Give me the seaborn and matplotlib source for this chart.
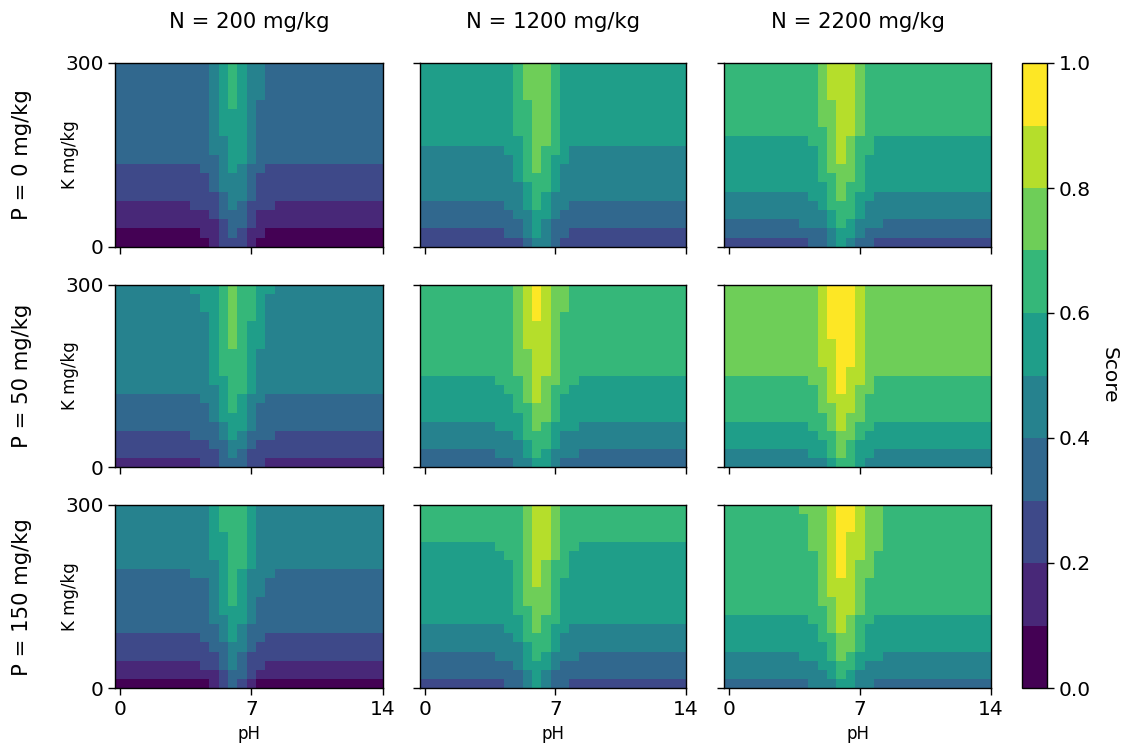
import numpy as np
import pandas as pd
import matplotlib
matplotlib.use("Agg")
import matplotlib.pyplot as plt
import seaborn as sns

sns.set_style("ticks")
plt.rcParams["font.family"] = ["DejaVu Sans"]
plt.rcParams["axes.edgecolor"] = "black"
plt.rcParams["xtick.color"] = "black"
plt.rcParams["ytick.color"] = "black"
plt.rcParams["text.color"] = "black"
plt.rcParams["axes.labelcolor"] = "black"

# ---------------- data ----------------
n_titles = ["N = 200 mg/kg", "N = 1200 mg/kg", "N = 2200 mg/kg"]
p_titles = ["P = 0 mg/kg", "P = 50 mg/kg", "P = 150 mg/kg"]
ph_centers = [i * 0.5 for i in range(29)]          # pH 0 .. 14, cell centres
k_centers = [292.5 - 15 * j for j in range(20)]    # K 300 -> 0, cell centres
ph_ticks = [0, 7, 14]
k_ticks = [300, 0]
score_ticks = [0.0, 0.2, 0.4, 0.6, 0.8, 1.0]

# Score band (0 = 0.0-0.1 ... 9 = 0.9-1.0) read per row, top (K=300) to bottom (K=0).
# "f:mmmmmmmmm" -> band f over pH 0-3.5 and 8.5-14, then the bands at pH 4.0,4.5,...,8.0
p0_n200 = ["3:334565443", "3:334565443", "3:334565443", "3:334565443",
           "3:334565433", "3:334555433", "3:334555433", "3:334555433",
           "3:334455433", "3:334455433", "3:333455433", "2:233454332",
           "2:223444322", "2:223444322", "2:222344322", "1:222343222",
           "1:112333211", "1:111233211", "0:011232110", "0:001222100"]
p0_n1200 = ["5:556777655", "5:556777655", "5:556777655", "5:556777655",
            "5:556677655", "5:556677655", "5:556677655", "5:556677655",
            "5:555677655", "4:455676654", "4:445676554", "4:445676544",
            "4:445666544", "4:444566544", "4:444565444", "3:344565443",
            "3:334455433", "3:333454333", "2:233454332", "2:222344322"]
p0_n2200 = ["6:667888766", "6:667888766", "6:667888766", "6:667888766",
            "6:667788766", "6:667788766", "6:667788766", "6:666788766",
            "5:566787665", "5:556787665", "5:556787655", "5:556777655",
            "5:556677655", "5:555676655", "4:455676554", "4:445666544",
            "4:444566544", "3:444565444", "3:333455433", "2:233454332"]
p50_n200 = ["4:555676655", "4:455676654", "4:455676654", "4:445676654",
            "4:445676554", "4:445676554", "4:445676554", "4:445666544",
            "4:445666544", "4:445666544", "4:445566544", "4:444566544",
            "3:344565443", "3:334565433", "3:334555433", "3:333455433",
            "2:333454333", "2:223344322", "2:222343222", "1:122333221"]
p50_n1200 = ["6:667898776", "6:667898776", "6:667898776", "6:667898766",
             "6:667888766", "6:667888766", "6:667888766", "6:667788766",
             "6:667788766", "6:667788766", "5:666787766", "5:566787665",
             "5:556787655", "5:556677655", "5:555677655", "4:555676555",
             "4:445666544", "4:444566544", "3:444565444", "3:334455433"]
p50_n2200 = ["7:778999877", "7:778999877", "7:778999877", "7:778999877",
             "7:778999877", "7:778999877", "7:778899877", "7:778899877",
             "7:778899877", "7:777898877", "6:677898876", "6:667898776",
             "6:667888766", "6:667788766", "6:666787766", "5:566787665",
             "5:556677655", "5:555676555", "4:455676554", "4:444566544"]
p150_n200 = ["4:445666544", "4:445666544", "4:445666544", "4:445566544",
             "4:445566544", "4:445566544", "4:444566544", "3:444565444",
             "3:334565443", "3:334565443", "3:334565433", "3:334555433",
             "3:334455433", "3:333454333", "2:233454332", "2:223344322",
             "2:222343222", "1:122343221", "1:111233211", "0:001232100"]
p150_n1200 = ["6:666788766", "6:666788766", "6:666788766", "6:666788766",
              "5:666788766", "5:566788765", "5:556787665", "5:556787665",
              "5:556787655", "5:556777655", "5:556777655", "5:556677655",
              "5:555676655", "4:455676554", "4:445666544", "4:444566544",
              "3:444565444", "3:334555433", "3:333454333", "2:233454332"]
p150_n2200 = ["6:777899877", "6:677899877", "6:677899877", "6:677898877",
              "6:677898877", "6:667898876", "6:667898776", "6:667898776",
              "6:667888766", "6:667888766", "6:667788766", "6:666788766",
              "5:566787665", "5:556787655", "5:556677655", "5:555677655",
              "4:555676555", "4:445566544", "4:444565444", "3:344455443"]

panels = [[p0_n200, p0_n1200, p0_n2200],
          [p50_n200, p50_n1200, p50_n2200],
          [p150_n200, p150_n1200, p150_n2200]]


def to_frame(rows):
    grid = []
    for r in rows:
        far, mid = r.split(":")
        line = far * 8 + mid + far * 12
        assert len(line) == len(ph_centers)
        grid.append([(int(c) + 0.5) / 10 for c in line])
    assert len(grid) == len(k_centers)
    return pd.DataFrame(grid, index=k_centers, columns=ph_centers)


# ---------------- layout ----------------
W, H = 1126, 744
fig = plt.figure(figsize=(W / 100, H / 100), dpi=100)
col_left = [115.3, 420.0, 724.0]
col_width = [267.4, 266.0, 267.0]
row_top = [63.0, 284.7, 505.0]
row_height = [183.7, 182.6, 183.3]

cmap = plt.get_cmap("viridis").resampled(10)
cax = fig.add_axes([1022 / W, 1 - 688 / H, 25 / W, 625 / H])

for i in range(3):
    for j in range(3):
        ax = fig.add_axes([col_left[j] / W, 1 - (row_top[i] + row_height[i]) / H,
                           col_width[j] / W, row_height[i] / H])
        df = to_frame(panels[i][j])
        first = (i == 0 and j == 0)
        sns.heatmap(df, ax=ax, cmap=cmap, vmin=0, vmax=1,
                    cbar=first, cbar_ax=cax if first else None,
                    cbar_kws={"ticks": score_ticks} if first else {},
                    xticklabels=False, yticklabels=False)
        if first:
            cb = ax.collections[0].colorbar
            cb.outline.set_visible(True)
            cb.outline.set_linewidth(1.0)
            cb.outline.set_edgecolor("black")
            cb.ax.tick_params(labelsize=14.5, length=5, width=1, colors="black")
            cb.set_label("Score", rotation=270, labelpad=20, fontsize=14.5)

        # pH -> column position, K -> row position (heatmap cell coordinates)
        xt = [ph_centers.index(p) + 0.5 for p in ph_ticks]
        yt = [(k_centers[0] + 7.5 - k) / 15 for k in k_ticks]
        ax.set_xlim(0, ph_centers.index(14) + 0.5)
        ax.set_ylim(len(k_centers), 0)
        ax.set_xticks(xt)
        ax.set_xticklabels([str(p) for p in ph_ticks])
        ax.set_yticks(yt)
        ax.set_yticklabels([str(k) for k in k_ticks], rotation=0)
        ax.tick_params(axis="both", labelsize=14.5, length=5, width=1,
                       labelbottom=(i == 2), labelleft=(j == 0))
        for s in ax.spines.values():
            s.set_visible(True)
            s.set_linewidth(1.0)
            s.set_color("black")
        ax.set_xlabel("")
        ax.set_ylabel("")
        if j == 0:
            ax.set_ylabel("K mg/kg", fontsize=12)
            ax.yaxis.set_label_coords(-0.135, 0.5)
        if i == 2:
            ax.set_xlabel("pH", fontsize=12, labelpad=4)

for j, t in enumerate(n_titles):
    fig.text((col_left[j] + col_width[j] / 2) / W, 1 - 22 / H, t,
             ha="center", va="center", fontsize=15.2)
for i, t in enumerate(p_titles):
    fig.text(22 / W, 1 - (row_top[i] + row_height[i] / 2) / H, t,
             rotation=90, ha="center", va="center", fontsize=15.2)

fig.savefig("out.png", dpi=100)
